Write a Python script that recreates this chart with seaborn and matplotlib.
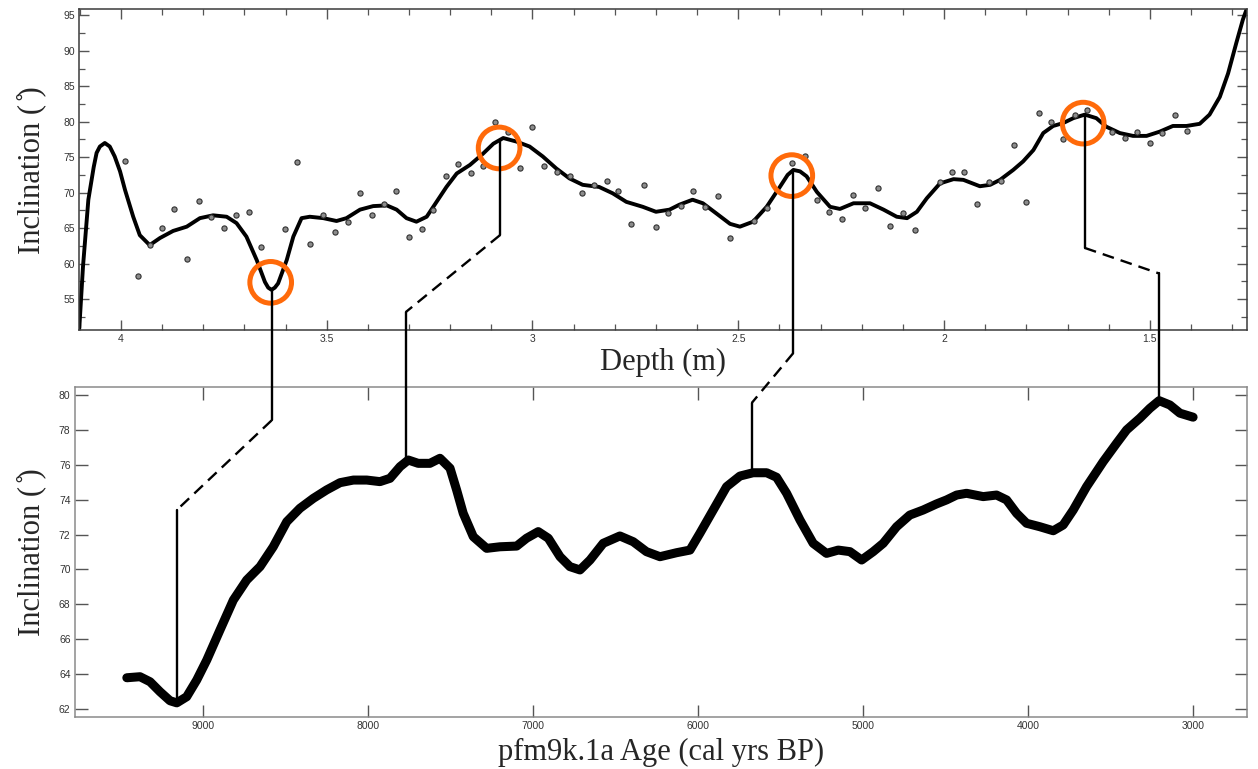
import numpy as np
import pandas as pd
import matplotlib
matplotlib.use("Agg")
import matplotlib.pyplot as plt
from matplotlib.lines import Line2D
from matplotlib.ticker import MultipleLocator
import seaborn as sns

# ---------------- data ----------------
# top panel: smoothed inclination curve vs depth (m)
curve_depth = [4.101, 4.092, 4.079, 4.066, 4.059, 4.051, 4.039, 4.027, 4.015, 4.002, 3.990, 3.970,
               3.954, 3.930, 3.905, 3.873,
               3.840, 3.808, 3.776, 3.743, 3.719, 3.695, 3.670, 3.650, 3.642, 3.634, 3.626, 3.618,
               3.597, 3.581,
               3.561, 3.541, 3.508, 3.476, 3.452, 3.419, 3.387, 3.354, 3.330, 3.306, 3.282, 3.257,
               3.233, 3.209, 3.184, 3.152, 3.120, 3.095, 3.071, 3.039, 3.007, 2.975, 2.942, 2.910,
               2.878, 2.838, 2.805, 2.772, 2.732, 2.700, 2.667, 2.643, 2.611, 2.586, 2.554, 2.520,
               2.496, 2.464, 2.431, 2.399, 2.380, 2.366, 2.350, 2.334, 2.309, 2.277, 2.253, 2.220,
               2.180, 2.147,
               2.115, 2.090, 2.066, 2.042, 2.010, 1.977, 1.953, 1.913, 1.888, 1.864, 1.832, 1.808,
               1.783, 1.759, 1.735, 1.711, 1.686, 1.658, 1.630, 1.606, 1.573, 1.541, 1.508, 1.476,
               1.444, 1.411, 1.379, 1.355, 1.330, 1.310, 1.290, 1.274, 1.264]
curve_incl = [50.9, 59.6, 69.0, 73.6, 75.6, 76.5, 77.0, 76.5, 75.1, 73.0, 70.4, 66.6,
              64.0, 62.6, 63.6, 64.6,
              65.2, 66.4, 66.8, 66.6, 65.7, 63.8, 60.5, 57.4, 56.6, 56.3, 56.6, 57.2,
              60.5, 63.8,
              66.4, 66.6, 66.4, 66.0, 66.4, 67.6, 68.1, 68.2, 67.6, 66.4, 65.9, 66.6,
              68.7, 70.8, 72.7, 73.9, 75.5, 76.9, 77.7, 77.2, 76.5, 75.1, 73.4, 72.0,
              71.1, 70.8, 69.9, 68.7, 68.0, 67.3, 67.6, 68.3, 69.0, 68.5, 67.1, 65.6,
              65.2, 65.9, 68.0, 70.8, 72.5, 73.2, 73.0, 72.3, 70.1, 68.0, 67.7, 68.5,
              68.5, 67.6,
              66.6, 66.4, 67.3, 69.2, 71.3, 71.9, 71.8, 70.9, 71.1, 71.8, 73.2, 74.4,
              76.0, 78.4, 79.4, 79.8, 80.5, 81.0, 80.5, 79.3, 78.4, 78.0, 78.0, 78.6,
              79.4, 79.4, 79.7, 81.0, 83.5, 86.8, 91.1, 94.4, 96.0]

# top panel: individual sample inclinations
sample_depth = [3.990, 3.959, 3.929, 3.900, 3.870, 3.840, 3.810, 3.780, 3.750, 3.720, 3.689, 3.659,
                3.601, 3.571, 3.540, 3.510, 3.479, 3.449, 3.419, 3.389, 3.361, 3.331, 3.300, 3.269,
                3.241, 3.211, 3.181, 3.150, 3.120, 3.090, 3.060, 3.030, 3.001, 2.971, 2.941, 2.910,
                2.880, 2.850, 2.819, 2.791, 2.761, 2.730, 2.700, 2.670, 2.640, 2.610, 2.580, 2.550,
                2.519, 2.461, 2.431, 2.369, 2.339, 2.309, 2.280, 2.249, 2.221, 2.191, 2.161, 2.131,
                2.100, 2.070, 2.010, 1.980, 1.952, 1.921, 1.891, 1.861, 1.831, 1.800, 1.770, 1.740,
                1.711, 1.681, 1.652, 1.591, 1.561, 1.531, 1.500, 1.470, 1.440, 1.410]
sample_incl = [74.5, 58.2, 62.6, 65.0, 67.7, 60.6, 68.8, 66.5, 65.0, 66.8, 67.2, 62.4,
               64.9, 74.3, 62.8, 66.8, 64.5, 65.8, 69.9, 66.9, 68.4, 70.3, 63.8, 64.9,
               67.5, 72.4, 74.1, 72.8, 73.8, 79.9, 78.5, 73.5, 79.2, 73.8, 72.9, 72.4,
               70.0, 71.1, 71.7, 70.3, 65.6, 71.1, 65.2, 67.1, 68.1, 70.3, 68.0, 69.5,
               63.6, 66.0, 67.8, 74.2, 75.1, 69.0, 67.3, 66.3, 69.7, 67.9, 70.6, 65.3,
               67.1, 64.7, 71.5, 72.9, 72.9, 68.4, 71.5, 71.7, 76.7, 68.7, 81.2, 79.9,
               77.5, 80.9, 81.7, 78.6, 77.7, 78.6, 77.0, 78.4, 81.0, 78.7]

# bottom panel: pfm9k.1a model inclination vs age (cal yrs BP)
model_age = [9464, 9384, 9323, 9263, 9202, 9161, 9101, 9040, 8979, 8899, 8818, 8737, 8656, 8576,
             8494, 8414, 8333, 8253, 8171, 8090, 8009, 7929, 7868, 7807, 7757, 7697, 7626, 7565,
             7504, 7464, 7424, 7363, 7282, 7201, 7100, 7040, 6969, 6908, 6837, 6777, 6716, 6655,
             6575, 6474, 6393, 6313, 6231, 6130, 6049, 5989, 5908, 5827, 5746, 5666, 5584, 5524,
             5463, 5382, 5302, 5221, 5150, 5079, 5008, 4938, 4877, 4796, 4716, 4635, 4554, 4493,
             4432, 4372, 4271, 4190, 4129, 4068, 4008, 3927, 3846, 3786, 3725, 3644, 3543, 3462,
             3401, 3321, 3260, 3204, 3139, 3078, 2998]
model_incl = [63.78, 63.84, 63.55, 62.98, 62.46, 62.34, 62.69, 63.65, 64.80, 66.52, 68.24, 69.39,
              70.16, 71.30, 72.74, 73.51, 74.08, 74.56, 74.98, 75.13, 75.13, 75.04, 75.23, 75.90,
              76.28, 76.09, 76.09, 76.38, 75.81, 74.56, 73.22, 71.88, 71.21, 71.30, 71.34, 71.79,
              72.17, 71.79, 70.73, 70.16, 69.97, 70.54, 71.50, 71.92, 71.59, 71.02, 70.73, 70.96,
              71.11, 72.07, 73.41, 74.75, 75.36, 75.55, 75.55, 75.29, 74.37, 72.84, 71.50, 70.92,
              71.11, 71.02, 70.54, 71.02, 71.50, 72.45, 73.12, 73.41, 73.76, 73.99, 74.27, 74.37,
              74.18, 74.27, 73.99, 73.22, 72.65, 72.45, 72.22, 72.55, 73.41, 74.75, 76.19, 77.24,
              78.01, 78.68, 79.25, 79.69, 79.44, 78.97, 78.74]

# tie points (depth in core  <->  model age)
tie_depth = [3.634, 3.079, 2.366, 1.658]
tie_age = [9161, 7770, 5674, 3204]
# dashed connector segment: (panel, inclination) at the depth side and at the age side
dash_from = [("bottom", 78.55), ("top", 64.0), ("top", 47.4), ("top", 62.2)]
dash_to = [("bottom", 73.41), ("top", 53.2), ("bottom", 79.56), ("top", 58.6)]

# orange circles highlighting tie features
circle_depth = [3.636, 3.081, 2.370, 1.662]
circle_incl = [57.35, 76.3, 72.4, 79.8]

top_df = pd.DataFrame({"depth": curve_depth, "incl": curve_incl})
pts_df = pd.DataFrame({"depth": sample_depth, "incl": sample_incl})
mod_df = pd.DataFrame({"age": model_age, "incl": model_incl})

# ---------------- figure ----------------
sns.set_style("white")
plt.rcParams["font.family"] = ["Liberation Sans", "DejaVu Sans"]

W, H = 1258, 769
fig = plt.figure(figsize=(W / 100, H / 100), dpi=100)
ax_top = fig.add_axes([79.3 / W, 1 - 330 / H, (1247 - 79.3) / W, (330 - 9.3) / H])
ax_bot = fig.add_axes([74.7 / W, 1 - 717.3 / H, (1246.7 - 74.7) / W, (717.3 - 386.7) / H])

sns.lineplot(data=top_df, x="depth", y="incl", ax=ax_top, color="black", lw=2.8,
             sort=False, estimator=None, solid_joinstyle="round")
sns.scatterplot(data=pts_df, x="depth", y="incl", ax=ax_top, s=14, color="#8c8c8c",
                edgecolor="#303030", linewidth=0.8, zorder=3)
ax_top.scatter(circle_depth, circle_incl, s=900, facecolors="none", edgecolors="#FF6A0A",
               linewidths=3.6, zorder=5, clip_on=False)

sns.lineplot(data=mod_df, x="age", y="incl", ax=ax_bot, color="black", lw=6.5,
             sort=False, estimator=None, solid_capstyle="round", solid_joinstyle="round")

ax_top.set_xlim(4.101, 1.264)
ax_top.set_ylim(50.63, 95.85)
ax_bot.set_xlim(9780, 2673)
ax_bot.set_ylim(61.51, 80.49)

ax_top.xaxis.set_major_locator(MultipleLocator(0.5))
ax_top.xaxis.set_minor_locator(MultipleLocator(0.1))
ax_top.yaxis.set_major_locator(MultipleLocator(5))
ax_top.yaxis.set_minor_locator(MultipleLocator(2.5))
ax_top.set_xticks([4, 3.5, 3, 2.5, 2, 1.5])
ax_top.set_xticklabels(["4", "3.5", "3", "2.5", "2", "1.5"])
ax_top.set_yticks([55, 60, 65, 70, 75, 80, 85, 90, 95])

ax_bot.set_xticks([9000, 8000, 7000, 6000, 5000, 4000, 3000])
ax_bot.set_yticks(np.arange(62, 81, 2))

for ax, spc, tkc, maj, mnr in [(ax_top, "#3a3a3a", "#555555", 7.2, 4.3),
                               (ax_bot, "#8a8a8a", "#555555", 9.0, 0)]:
    for s in ax.spines.values():
        s.set_color(spc)
        s.set_linewidth(1.1)
        s.set_visible(True)
    ax.tick_params(which="major", direction="in", length=maj, width=1.0, color=tkc,
                   top=True, right=True, bottom=True, left=True,
                   labelsize=7.5, labelcolor="#333333", pad=3)
    ax.tick_params(which="minor", direction="in", length=mnr, width=0.9, color=tkc,
                   top=True, right=True, bottom=True, left=True)

serif = ["Liberation Serif", "DejaVu Serif"]
lab = "Inclination ( \u030a)"
ax_top.set_ylabel(lab, fontsize=22, family=serif)
ax_bot.set_ylabel(lab, fontsize=22, family=serif)
ax_top.yaxis.set_label_coords(-0.0285, 0.5)
ax_bot.yaxis.set_label_coords(-0.0245, 0.5)
ax_top.set_xlabel("Depth (m)", fontsize=22, family=serif)
ax_bot.set_xlabel("pfm9k.1a Age (cal yrs BP)", fontsize=22, family=serif)
ax_top.xaxis.set_label_coords(0.5, -0.057)
ax_bot.xaxis.set_label_coords(0.5, -0.062)

# ---------------- tie lines (figure level, through data transforms) ----------------
to_fig = fig.transFigure.inverted()
axes_of = {"top": ax_top, "bottom": ax_bot}


def xpos(ax, xval):
    return ax.transData.transform((xval, 0))[0]


def ypos(ax, yval):
    return ax.transData.transform((0, yval))[1]


for d, a, (p0, v0), (p1, v1) in zip(tie_depth, tie_age, dash_from, dash_to):
    x_d = xpos(ax_top, d)
    x_a = xpos(ax_bot, a)
    y_start = ypos(ax_top, np.interp(d, curve_depth[::-1], curve_incl[::-1]))
    y_k0 = ypos(axes_of[p0], v0)
    y_k1 = ypos(axes_of[p1], v1)
    y_end = ypos(ax_bot, np.interp(a, model_age[::-1], model_incl[::-1]))
    pts = to_fig.transform([(x_d, y_start), (x_d, y_k0), (x_a, y_k1), (x_a, y_end)])
    fig.add_artist(Line2D([pts[0][0], pts[1][0]], [pts[0][1], pts[1][1]], color="black",
                          lw=1.7, transform=fig.transFigure, zorder=4))
    fig.add_artist(Line2D([pts[1][0], pts[2][0]], [pts[1][1], pts[2][1]], color="black",
                          lw=1.7, ls=(0, (5, 3)), transform=fig.transFigure, zorder=4))
    fig.add_artist(Line2D([pts[2][0], pts[3][0]], [pts[2][1], pts[3][1]], color="black",
                          lw=1.7, transform=fig.transFigure, zorder=4))

fig.savefig("out.png", dpi=100)
